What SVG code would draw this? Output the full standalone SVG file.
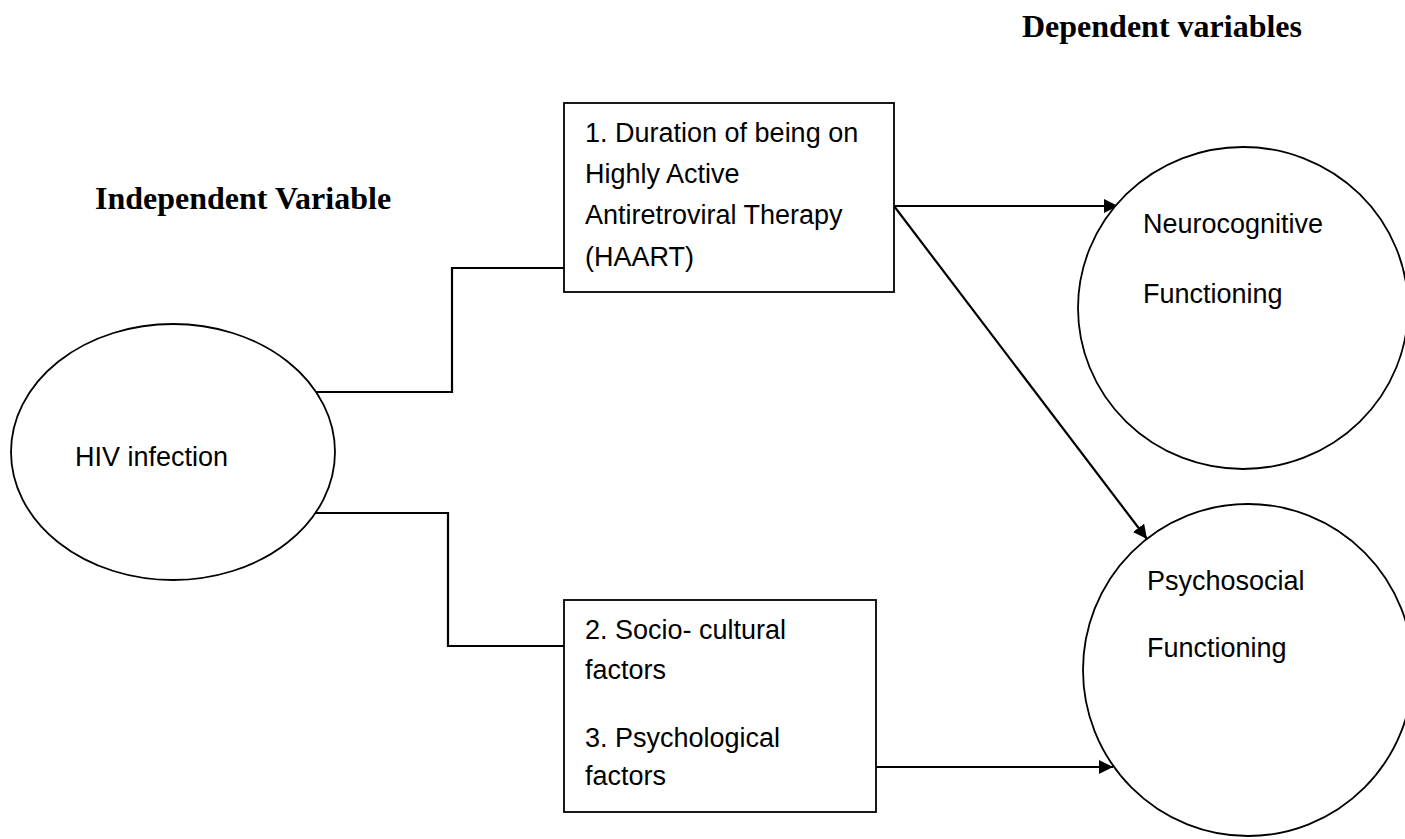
<svg xmlns="http://www.w3.org/2000/svg" width="1405" height="839" viewBox="0 0 1405 839">
<style>
.bg{fill:#fff}
.node{fill:#fff;stroke:#000;stroke-width:1.8}
.lbl{font-family:"Liberation Sans",Arial,sans-serif;font-size:27px;fill:#000}
.title{font-family:"Liberation Serif","Times New Roman",serif;font-size:32px;font-weight:bold;fill:#000}
.conn{fill:none;stroke:#000;stroke-width:2.2}
</style>
<defs>
<marker id="arr" markerUnits="userSpaceOnUse" markerWidth="16" markerHeight="16" refX="14" refY="7" orient="auto">
<path d="M0,0 L14,7 L0,14 Z" fill="#000"/>
</marker>
</defs>
<rect class="bg" x="0" y="0" width="1405" height="839"/>
<g id="titles">
<text class="title" x="1022" y="37">Dependent variables</text>
<text class="title" x="95" y="209">Independent Variable</text>
</g>
<g id="connectors">
<polyline class="conn" points="316,392 452,392 452,268 564,268"/>
<polyline class="conn" points="315,513 448,513 448,646 564,646"/>
<line class="conn" x1="894" y1="206" x2="1118" y2="206" marker-end="url(#arr)"/>
<line class="conn" x1="894" y1="206" x2="1147" y2="539" marker-end="url(#arr)"/>
<line class="conn" x1="876" y1="767" x2="1113" y2="767" marker-end="url(#arr)"/>
</g>
<g id="hiv">
<ellipse class="node" cx="173" cy="452" rx="162" ry="128"/>
<text class="lbl" x="75" y="466">HIV infection</text>
</g>
<g id="haart">
<rect class="node" x="564" y="103" width="330" height="189"/>
<text class="lbl" x="585" y="142">1. Duration of being on</text>
<text class="lbl" x="585" y="183">Highly Active</text>
<text class="lbl" x="585" y="224">Antiretroviral Therapy</text>
<text class="lbl" x="585" y="266">(HAART)</text>
</g>
<g id="factors">
<rect class="node" x="564" y="600" width="312" height="212"/>
<text class="lbl" x="585" y="639">2. Socio- cultural</text>
<text class="lbl" x="585" y="679">factors</text>
<text class="lbl" x="585" y="747">3. Psychological</text>
<text class="lbl" x="585" y="785">factors</text>
</g>
<g id="neuro">
<ellipse class="node" cx="1243" cy="308" rx="165" ry="161"/>
<text class="lbl" x="1143" y="233">Neurocognitive</text>
<text class="lbl" x="1143" y="303">Functioning</text>
</g>
<g id="psycho">
<ellipse class="node" cx="1248" cy="670" rx="165" ry="166"/>
<text class="lbl" x="1147" y="590">Psychosocial</text>
<text class="lbl" x="1147" y="657">Functioning</text>
</g>
</svg>
